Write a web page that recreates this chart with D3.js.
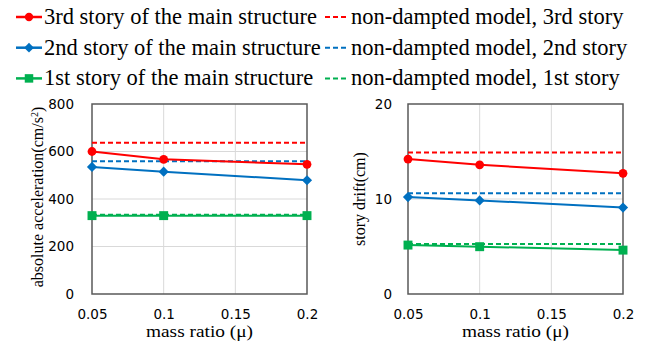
<!DOCTYPE html>
<html>
<head>
<meta charset="utf-8">
<script src="https://cdn.jsdelivr.net/npm/d3@7"></script>
<style>
  body { margin: 0; background: #fff; }
  svg { display: block; }
</style>
</head>
<body>
<div id="main_output"></div>
<script>
// mass ratios on the x axis
var massRatio = [0.05, 0.1, 0.2];

// absolute acceleration (cm/s2)
var acc3rd = [600, 567, 546];
var acc2nd = [535, 515, 479];
var acc1st = [330, 330, 330];
var accUndamped = [637, 559, 334]; // 3rd, 2nd, 1st

// story drift (cm)
var drift3rd = [14.2, 13.6, 12.7];
var drift2nd = [10.2, 9.85, 9.1];
var drift1st = [5.15, 4.98, 4.62];
var driftUndamped = [14.9, 10.6, 5.26];

var xTicks = [0.05, 0.1, 0.15, 0.2];
var accTicks = [0, 200, 400, 600, 800];
var driftTicks = [0, 10, 20];

var legendSolid = ["3rd story of the main structure", "2nd story of the main structure", "1st story of the main structure"];
var legendDashed = ["non-dampted model, 3rd story", "non-dampted model, 2nd story", "non-dampted model, 1st story"];

const red = "#ff0000", blue = "#0070c0", green = "#00b050";
const colours = [red, blue, green];

const serif = '"Liberation Serif"';
const sans = '"DejaVu Sans"';

var svg = d3.select("#main_output").append("svg")
    .attr("width", 657)
    .attr("height", 342);

function marker(sel, i, scale) {
  scale = scale || 1;
  if (i === 0) {
    sel.append("circle").attr("r", 4.4 * scale).attr("fill", colours[i]);
  } else if (i === 1) {
    sel.append("path")
        .attr("d", d3.symbol().type(d3.symbolSquare).size(52 * scale * scale))
        .attr("transform", "rotate(45)")
        .attr("fill", colours[i]);
  } else {
    sel.append("path")
        .attr("d", d3.symbol().type(d3.symbolSquare).size(80 * scale * scale))
        .attr("fill", colours[i]);
  }
}

// legend
var legend = svg.append("g").attr("class", "legend");
legendSolid.forEach(function(label, i) {
  var yRow = 17 + i * 30.7;
  var row = legend.append("g").attr("transform", "translate(0," + yRow + ")");
  row.append("line")
      .attr("x1", 16).attr("x2", 42).attr("y1", 0).attr("y2", 0)
      .attr("stroke", colours[i]).attr("stroke-width", 2.5);
  marker(row.append("g").attr("transform", "translate(29,0)"), i, 0.95);
  row.append("text")
      .attr("x", 44).attr("y", 7)
      .style("font-family", serif).style("font-size", "22.5px")
      .attr("fill", "#000")
      .text(label);
  row.append("line")
      .attr("x1", 325).attr("x2", 349).attr("y1", 0).attr("y2", 0)
      .attr("stroke", colours[i]).attr("stroke-width", 2)
      .attr("stroke-dasharray", "5,3");
  row.append("text")
      .attr("x", 351).attr("y", 7)
      .style("font-family", serif).style("font-size", "22.5px")
      .attr("fill", "#000")
      .text(legendDashed[i]);
});

function drawPanel(opts) {
  var g = svg.append("g");
  var x = d3.scaleLinear().domain([0.05, 0.2]).range([opts.left, opts.right]);
  var y = d3.scaleLinear().domain(opts.yDomain).range([294, 104]);

  // grid
  g.selectAll(".vgrid").data(xTicks.slice(1, -1)).enter().append("line")
      .attr("x1", function(d) { return x(d); }).attr("x2", function(d) { return x(d); })
      .attr("y1", 104).attr("y2", 294)
      .attr("stroke", "#d9d9d9").attr("stroke-width", 1);
  g.selectAll(".hgrid").data(opts.yTicks.slice(1, -1)).enter().append("line")
      .attr("x1", opts.left).attr("x2", opts.right)
      .attr("y1", function(d) { return y(d); }).attr("y2", function(d) { return y(d); })
      .attr("stroke", "#d9d9d9").attr("stroke-width", 1);

  // frame
  g.append("rect")
      .attr("x", opts.left).attr("y", 104)
      .attr("width", opts.right - opts.left).attr("height", 190)
      .attr("fill", "none").attr("stroke", "#595959").attr("stroke-width", 1.5);

  // axes (labels only)
  var xAxis = g.append("g").attr("transform", "translate(0,294)")
      .call(d3.axisBottom(x).tickValues(xTicks).tickSize(0).tickPadding(15).tickFormat(d3.format("")));
  xAxis.select(".domain").remove();
  xAxis.selectAll("text").style("font-family", sans).style("font-size", "13.5px").attr("fill", "#000");

  var yAxis = g.append("g").attr("transform", "translate(" + opts.left + ",0)")
      .call(d3.axisLeft(y).tickValues(opts.yTicks).tickSize(0).tickPadding(opts.yPad));
  yAxis.select(".domain").remove();
  yAxis.selectAll("text").style("font-family", sans).style("font-size", "13.5px").attr("fill", "#000");

  // titles
  g.append("text")
      .attr("x", (opts.left + opts.right) / 2).attr("y", 337)
      .attr("text-anchor", "middle")
      .style("font-family", serif).style("font-size", "17px")
      .attr("textLength", 107).attr("lengthAdjust", "spacingAndGlyphs")
      .text("mass ratio (\u03bc)");

  var yt = g.append("text")
      .attr("transform", "translate(" + opts.titleX + "," + opts.titleY + ") rotate(-90)")
      .attr("text-anchor", "middle")
      .style("font-family", serif).style("font-size", "16px");
  opts.yTitle(yt);

  // undamped reference lines
  opts.undamped.forEach(function(v, i) {
    g.append("line")
        .attr("x1", opts.left).attr("x2", opts.right)
        .attr("y1", y(v)).attr("y2", y(v))
        .attr("stroke", colours[i]).attr("stroke-width", 2)
        .attr("stroke-dasharray", "5,3");
  });

  // series
  var line = d3.line()
      .x(function(d, i) { return x(massRatio[i]); })
      .y(function(d) { return y(d); });

  opts.series.forEach(function(s, i) {
    g.append("path")
        .datum(s)
        .attr("fill", "none")
        .attr("stroke", colours[i])
        .attr("stroke-width", 2)
        .attr("d", line);
    s.forEach(function(d, j) {
      marker(g.append("g").attr("transform", "translate(" + x(massRatio[j]) + "," + y(d) + ")"), i);
    });
  });
}

drawPanel({
  left: 92, right: 307,
  yDomain: [0, 800], yTicks: accTicks, yPad: 18,
  titleX: 43, titleY: 197,
  undamped: accUndamped,
  series: [acc3rd, acc2nd, acc1st],
  yTitle: function(t) {
    t.append("tspan").text("absolute acceleration(cm/s");
    t.append("tspan").attr("baseline-shift", "super").style("font-size", "10px").text("2");
    t.append("tspan").text(")");
  }
});

drawPanel({
  left: 408, right: 623,
  yDomain: [0, 20], yTicks: driftTicks, yPad: 16,
  titleX: 365, titleY: 199,
  undamped: driftUndamped,
  series: [drift3rd, drift2nd, drift1st],
  yTitle: function(t) { t.text("story drift(cm)"); }
});
</script>
</body>
</html>
